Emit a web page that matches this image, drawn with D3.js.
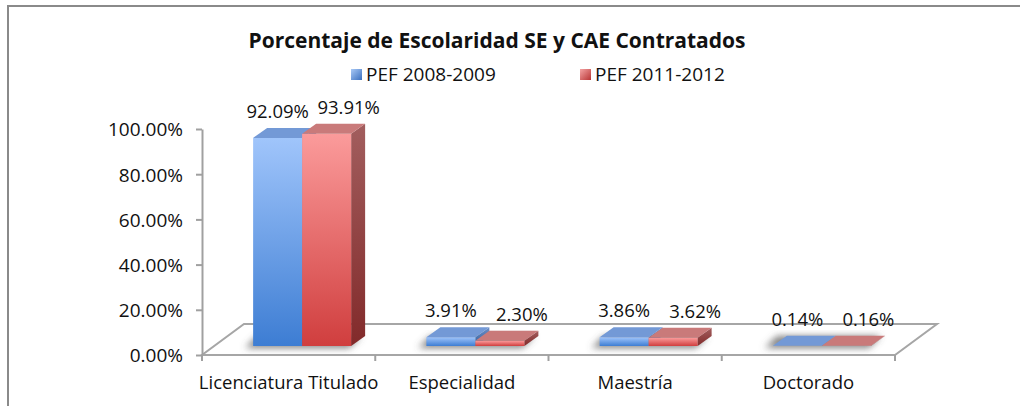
<!DOCTYPE html>
<html lang="es">
<head>
<meta charset="utf-8">
<title>Porcentaje de Escolaridad SE y CAE Contratados</title>
<script src="https://cdn.jsdelivr.net/npm/d3@7"></script>
<style>
  body { margin: 0; background: #fff; }
  text { font-family: "Open Sans", sans-serif; fill: #111; }
</style>
</head>
<body>
<script>
// data
var categories = ["Licenciatura Titulado", "Especialidad", "Maestría", "Doctorado"];
var seriesNames = ["PEF 2008-2009", "PEF 2011-2012"];
var pef0809 = [0.9209, 0.0391, 0.0386, 0.0014];
var pef1112 = [0.9391, 0.0230, 0.0362, 0.0016];
var yTicks = [0, 0.2, 0.4, 0.6, 0.8, 1.0];

var width = 1020, height = 406;
var floorDepth = {dx: 42, dy: -31};   // floor depth vector
var barDepth = {dx: 14, dy: -10};     // bar depth
var barShift = {dx: 13.5, dy: -9};    // bar front plane vs floor front edge
var barW = 49;

var svg = d3.select("body").append("svg")
  .attr("width", width).attr("height", height);

var defs = svg.append("defs");
function grad(id, c1, c2) {
  var g = defs.append("linearGradient").attr("id", id)
    .attr("x1", 0).attr("y1", 0).attr("x2", 0).attr("y2", 1);
  g.append("stop").attr("offset", "0%").attr("stop-color", c1);
  g.append("stop").attr("offset", "100%").attr("stop-color", c2);
}
grad("blueFront", "#a0c5fb", "#3d7dd3");
grad("redFront", "#fb9b9b", "#d03e3e");
grad("redSide", "#a25e5e", "#822a2a");
grad("blueSide", "#6f8fc6", "#2d5f9f");
var lg = defs.append("linearGradient").attr("id", "legBlue")
  .attr("x1", 0).attr("y1", 0).attr("x2", 1).attr("y2", 1);
lg.append("stop").attr("offset", "0%").attr("stop-color", "#a9c9f6");
lg.append("stop").attr("offset", "100%").attr("stop-color", "#3a6fbf");
var lr = defs.append("linearGradient").attr("id", "legRed")
  .attr("x1", 0).attr("y1", 0).attr("x2", 1).attr("y2", 1);
lr.append("stop").attr("offset", "0%").attr("stop-color", "#f4a3a3");
lr.append("stop").attr("offset", "100%").attr("stop-color", "#b83434");
defs.append("filter").attr("id", "blur")
  .attr("x", "-50%").attr("y", "-50%").attr("width", "200%").attr("height", "200%")
  .append("feGaussianBlur").attr("stdDeviation", 3.5);

// chart frame (only top and left edge visible)
svg.append("path")
  .attr("d", "M8," + height + "V6H" + width)
  .attr("fill", "none").attr("stroke", "#8a8a8a").attr("stroke-width", 2);

// scales
var x = d3.scaleBand().domain(categories).range([202, 895]);
var xs = d3.scaleBand().domain(seriesNames).range([0, 2 * barW]);
var y = d3.scaleLinear().domain([0, 1]).range([355, 129]);

// floor
var x0 = x.range()[0], x1 = x.range()[1], y0 = y(0);
svg.append("polygon")
  .attr("points", [[x0, y0], [x1, y0], [x1 + floorDepth.dx, y0 + floorDepth.dy],
                   [x0 + floorDepth.dx, y0 + floorDepth.dy]].join(" "))
  .attr("fill", "#fff").attr("stroke", "#a6a6a6").attr("stroke-width", 2);

// rows of data
var rows = [];
categories.forEach(function(c, i) {
  rows.push({cat: c, s: seriesNames[0], v: pef0809[i], k: 0});
  rows.push({cat: c, s: seriesNames[1], v: pef1112[i], k: 1});
});
function barX(d) { return x(d.cat) + x.bandwidth() / 2 - barW + barShift.dx + xs(d.s); }
var base = y0 + barShift.dy;
function barTop(d) { return y(d.v) + barShift.dy; }

// shadows on the floor
var gShadow = svg.append("g").attr("filter", "url(#blur)");
categories.forEach(function(c) {
  var l = x(c) + x.bandwidth() / 2 - barW + barShift.dx;
  var r = l + 2 * barW;
  gShadow.append("polygon")
    .attr("points", [[l - 8, base + 2], [r - 2, base + 2], [r + barDepth.dx - 4, base + barDepth.dy],
                     [l + barDepth.dx - 10, base + barDepth.dy]].join(" "))
    .attr("fill", "#5a5a5a").attr("opacity", 0.75);
});

// bars
var gBars = svg.append("g");
rows.forEach(function(d) {
  var bx = barX(d), bt = barTop(d), bw = xs.bandwidth();
  var g = gBars.append("g");
  var isBlue = d.k === 0;
  // side
  g.append("polygon")
    .attr("points", [[bx + bw, bt], [bx + bw + barDepth.dx, bt + barDepth.dy],
                     [bx + bw + barDepth.dx, base + barDepth.dy], [bx + bw, base]].join(" "))
    .attr("fill", isBlue ? "url(#blueSide)" : "url(#redSide)");
  // front
  if (base - bt > 0.6) {
    g.append("rect")
      .attr("x", bx).attr("y", bt).attr("width", bw).attr("height", base - bt)
      .attr("fill", isBlue ? "url(#blueFront)" : "url(#redFront)");
  }
  // top
  g.append("polygon")
    .attr("points", [[bx, bt], [bx + bw, bt], [bx + bw + barDepth.dx, bt + barDepth.dy],
                     [bx + barDepth.dx, bt + barDepth.dy]].join(" "))
    .attr("fill", isBlue ? "#7399d6" : "#c97a7a");
});

// value labels
svg.append("g").selectAll("text").data(rows).join("text")
  .attr("x", function(d) { return barX(d) + xs.bandwidth() / 2 + (d.k === 1 ? 22 : 0); })
  .attr("y", function(d) { return barTop(d) - 20; })
  .attr("text-anchor", "middle")
  .style("font-size", "18.5px")
  .text(function(d) { return d3.format(".2%")(d.v); });

// y axis
var yAxis = d3.axisLeft(y).tickValues(yTicks).tickFormat(d3.format(".2%"))
  .tickSize(6).tickSizeOuter(0).tickPadding(13);
var gy = svg.append("g").attr("transform", "translate(" + x0 + ",0)").call(yAxis);
gy.select(".domain").attr("stroke", "#a0a0a0").attr("stroke-width", 2);
gy.selectAll(".tick line").attr("stroke", "#a0a0a0").attr("stroke-width", 2);
gy.selectAll(".tick text").attr("font-family", null).style("font-size", "19px").attr("dy", "0.36em");

// x axis
var xAxis = d3.axisBottom(x).tickSize(0).tickPadding(0);
var gx = svg.append("g").attr("transform", "translate(0," + y0 + ")").call(xAxis);
gx.select(".domain").remove();
gx.selectAll(".tick text").attr("font-family", null).style("font-size", "18.5px")
  .attr("y", 34).attr("dy", 0);
var edges = categories.map(function(c) { return x(c); }).concat([x1]);
gx.selectAll(".edge").data(edges).join("line").attr("class", "edge")
  .attr("x1", function(d) { return d; }).attr("x2", function(d) { return d; })
  .attr("y1", 0).attr("y2", 6).attr("stroke", "#a0a0a0").attr("stroke-width", 2);

// title
svg.append("text").attr("x", 497).attr("y", 48).attr("text-anchor", "middle")
  .style("font-size", "21px").style("font-weight", "bold")
  .text("Porcentaje de Escolaridad SE y CAE Contratados");

// legend
var legX = [351, 580];
var leg = svg.append("g").selectAll("g").data(seriesNames).join("g")
  .attr("transform", function(d, i) { return "translate(" + legX[i] + ",69)"; });
leg.append("rect").attr("width", 11).attr("height", 11)
  .attr("fill", function(d, i) { return i === 0 ? "url(#legBlue)" : "url(#legRed)"; });
leg.append("text").attr("x", 15).attr("y", 12).style("font-size", "19px")
  .text(function(d) { return d; });
</script>
</body>
</html>
